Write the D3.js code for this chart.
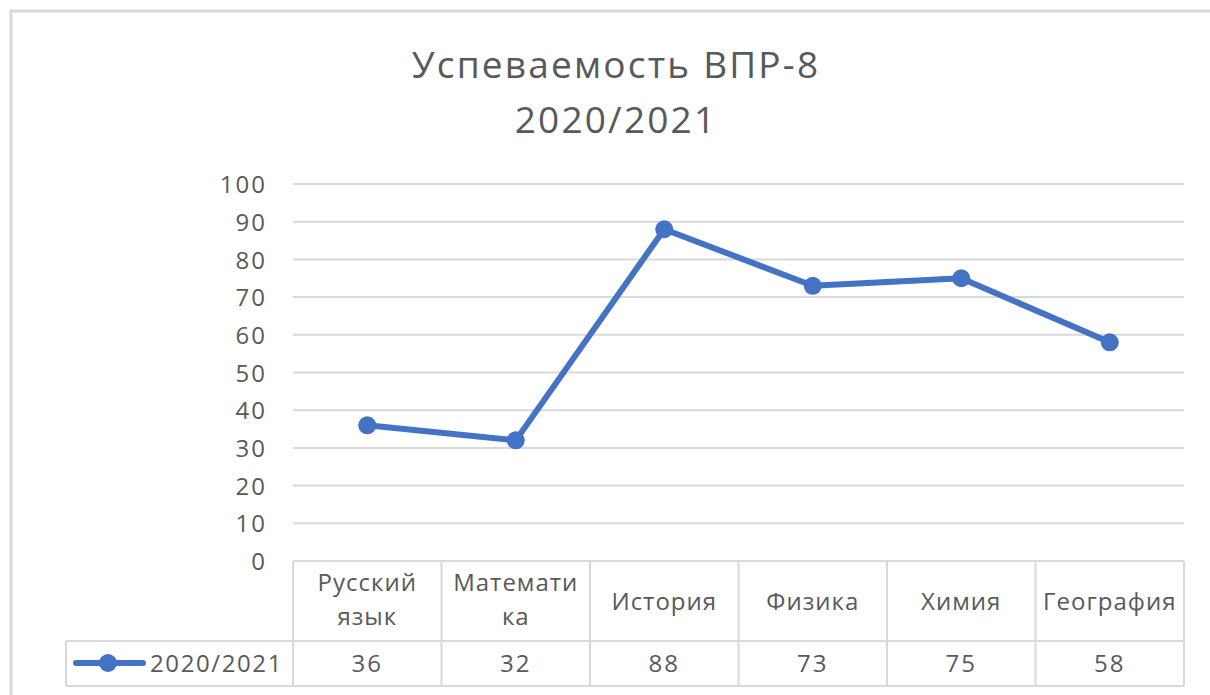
<!DOCTYPE html>
<html>
<head>
<meta charset="utf-8">
<script src="https://cdn.jsdelivr.net/npm/d3@7"></script>
<style>
  body { margin: 0; background: #fff; }
  svg { display: block; font-family: "Open Sans", "Noto Sans", sans-serif; }
</style>
</head>
<body>
<svg id="chart" width="1210" height="695"></svg>
<script>
// chart data
const titleLines = ["Успеваемость ВПР-8", "2020/2021"];
const categories = [["Русский", "язык"], ["Математи", "ка"], ["История"], ["Физика"], ["Химия"], ["География"]];
const seriesName = "2020/2021";
const values = [36, 32, 88, 73, 75, 58];
const yTicks = [0, 10, 20, 30, 40, 50, 60, 70, 80, 90, 100];

const svg = d3.select("#chart");
const textColor = "#595959";
const gridColor = "#d9d9d9";
const lineColor = "#4472c4";

// outer chart border
svg.append("rect")
    .attr("x", 11).attr("y", 11)
    .attr("width", 1260).attr("height", 760)
    .attr("fill", "none")
    .attr("stroke", gridColor)
    .attr("stroke-width", 3);

// title
svg.append("text")
    .attr("x", 616)
    .attr("y", 78)
    .attr("text-anchor", "middle")
    .attr("fill", textColor)
    .style("font-size", "37px")
    .style("letter-spacing", "2.2px")
    .selectAll("tspan")
    .data(titleLines)
    .join("tspan")
    .attr("x", 616)
    .attr("dy", (d, i) => i === 0 ? 0 : 55)
    .text(d => d);

const plotLeft = 293, plotRight = 1184, plotTop = 184, plotBottom = 561;

const x = d3.scaleBand()
    .domain(d3.range(categories.length))
    .range([plotLeft, plotRight]);

const y = d3.scaleLinear()
    .domain([0, 100])
    .range([plotBottom, plotTop]);

// gridlines
svg.append("g")
    .selectAll("line")
    .data(yTicks.filter(d => d > 0))
    .join("line")
    .attr("x1", plotLeft).attr("x2", plotRight)
    .attr("y1", d => y(d)).attr("y2", d => y(d))
    .attr("stroke", gridColor)
    .attr("stroke-width", 2);

// y axis labels
const yAxis = svg.append("g")
    .attr("transform", `translate(${plotLeft},0)`)
    .call(d3.axisLeft(y).tickValues(yTicks).tickSize(0).tickPadding(26));
yAxis.select(".domain").remove();
yAxis.selectAll("text")
    .attr("fill", textColor)
    .attr("dy", "0.36em")
    .style("font-size", "24px")
    .style("letter-spacing", "2px")
    .style("font-family", "Open Sans, Noto Sans, sans-serif");

// data table
const rowTop = plotBottom, rowMid = 641, rowBottom = 686, legendLeft = 66;
const tbl = svg.append("g").attr("stroke", gridColor).attr("stroke-width", 2);
tbl.append("line").attr("x1", plotLeft).attr("x2", plotRight).attr("y1", rowTop).attr("y2", rowTop);
tbl.append("line").attr("x1", legendLeft).attr("x2", plotRight).attr("y1", rowMid).attr("y2", rowMid);
tbl.append("line").attr("x1", legendLeft).attr("x2", plotRight).attr("y1", rowBottom).attr("y2", rowBottom);
tbl.append("line").attr("x1", legendLeft).attr("x2", legendLeft).attr("y1", rowMid).attr("y2", rowBottom);
tbl.selectAll("line.col")
    .data(d3.range(categories.length + 1))
    .join("line")
    .attr("class", "col")
    .attr("x1", i => plotLeft + i * x.bandwidth())
    .attr("x2", i => plotLeft + i * x.bandwidth())
    .attr("y1", rowTop).attr("y2", rowBottom);

// category labels
svg.append("g")
    .selectAll("text")
    .data(categories)
    .join("text")
    .attr("text-anchor", "middle")
    .attr("fill", textColor)
    .style("font-size", "24px")
    .style("letter-spacing", "1px")
    .attr("y", d => d.length === 1 ? 610 : 591)
    .each(function (d, i) {
        d3.select(this).selectAll("tspan")
            .data(d)
            .join("tspan")
            .attr("x", x(i) + x.bandwidth() / 2)
            .attr("dy", (t, j) => j === 0 ? 0 : 34)
            .text(t => t);
    });

// values row
svg.append("g")
    .selectAll("text")
    .data(values)
    .join("text")
    .attr("x", (d, i) => x(i) + x.bandwidth() / 2)
    .attr("y", 672)
    .attr("text-anchor", "middle")
    .attr("fill", textColor)
    .style("font-size", "24px")
    .style("letter-spacing", "2px")
    .text(d => d);

// legend key in table
svg.append("line")
    .attr("x1", 76).attr("x2", 143)
    .attr("y1", 663).attr("y2", 663)
    .attr("stroke", lineColor)
    .attr("stroke-width", 6)
    .attr("stroke-linecap", "round");
svg.append("circle")
    .attr("cx", 108).attr("cy", 663).attr("r", 9)
    .attr("fill", lineColor);
svg.append("text")
    .attr("x", 150).attr("y", 672)
    .attr("fill", textColor)
    .style("font-size", "24px")
    .style("letter-spacing", "1.6px")
    .text(seriesName);

// series line
const line = d3.line()
    .x((d, i) => x(i) + x.bandwidth() / 2)
    .y(d => y(d));

svg.append("path")
    .datum(values)
    .attr("fill", "none")
    .attr("stroke", lineColor)
    .attr("stroke-width", 6)
    .attr("stroke-linejoin", "round")
    .attr("d", line);

svg.append("g")
    .selectAll("circle")
    .data(values)
    .join("circle")
    .attr("cx", (d, i) => x(i) + x.bandwidth() / 2)
    .attr("cy", d => y(d))
    .attr("r", 9)
    .attr("fill", lineColor);
</script>
</body>
</html>
